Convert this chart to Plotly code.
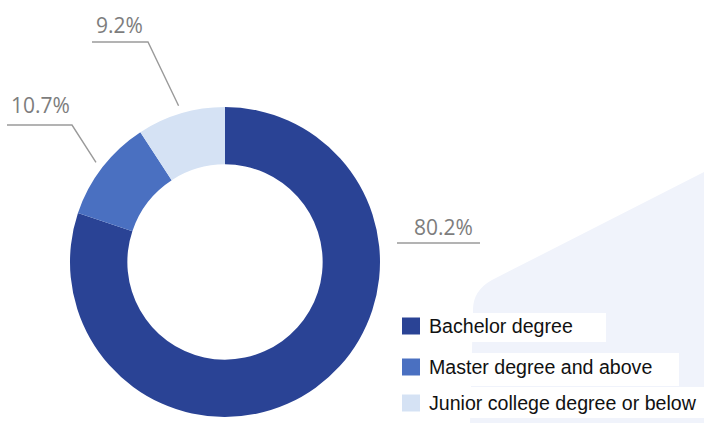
import math
import plotly.graph_objects as go

# ---- data ----
categories = ["Bachelor degree", "Master degree and above", "Junior college degree or below"]
shares = [80.2, 10.7, 9.2]
colors = ["#2a4395", "#4a70c1", "#d5e2f4"]

# ---- canvas / geometry ----
W, H = 704, 423
CX, CY, R = 225, 262, 155      # ring centre and outer radius in pixels
HOLE = 0.63


def px(x):
    return x / W


def py(y):
    return 1 - y / H


fig = go.Figure(
    go.Pie(
        labels=categories,
        values=shares,
        sort=False,
        direction="clockwise",
        rotation=0,
        hole=HOLE,
        marker=dict(colors=colors, line=dict(width=0)),
        textinfo="none",
        hoverinfo="label+percent",
        showlegend=False,
        domain=dict(x=[px(CX - R), px(CX + R)], y=[py(CY + R), py(CY - R)]),
    )
)

shapes = []
annotations = []

# faint diagonal watermark band in the lower right
band = (
    f"M {px(704)},{py(172)} L {px(492)},{py(280)} "
    f"Q {px(472)},{py(291)} {px(473)},{py(312)} "
    f"L {px(470)},{py(423)} L {px(704)},{py(423)} Z"
)
shapes.append(dict(type="path", xref="paper", yref="paper", path=band,
                   fillcolor="#f0f3fb", line=dict(width=0), layer="below"))

# mid angle of every slice (clockwise from 12 o'clock)
total = sum(shares)
mids = []
acc = 0.0
for v in shares:
    mids.append((acc + v / 2) / total * 360)
    acc += v


def ring_point(angle, r):
    a = math.radians(angle)
    return CX + r * math.sin(a), CY - r * math.cos(a)


# percentage labels: text centre, underline span, whether an elbow runs to the ring
label_layout = [
    dict(tx=443, ty=227, ux0=397, ux1=480, uy=243, elbow=None),
    dict(tx=40, ty=105, ux0=7, ux1=72, uy=125, elbow="right"),
    dict(tx=120, ty=25, ux0=92, ux1=148, uy=42, elbow="right"),
]
line_style = dict(color="#9a9a9a", width=1.4)
for v, mid, lay in zip(shares, mids, label_layout):
    annotations.append(dict(
        x=px(lay["tx"]), y=py(lay["ty"]), xref="paper", yref="paper",
        text=f"{v:.1f}%", showarrow=False, xanchor="center", yanchor="middle",
        font=dict(family="Open Sans", size=21, color="#7d7d7d"),
    ))
    path = f"M {px(lay['ux0'])},{py(lay['uy'])} L {px(lay['ux1'])},{py(lay['uy'])}"
    if lay["elbow"]:
        ex, ey = ring_point(mid, R + 8)
        path += f" L {px(ex)},{py(ey)}"
    shapes.append(dict(type="path", xref="paper", yref="paper", path=path,
                       line=line_style))

# legend drawn as swatches + labels on white strips
legend_rows = [
    dict(cy=326, top=313, bottom=342, right=606),
    dict(cy=367, top=353, bottom=386, right=679),
    dict(cy=403, top=387, bottom=418, right=704),
]
for name, col, row in zip(categories, colors, legend_rows):
    shapes.append(dict(type="rect", xref="paper", yref="paper",
                       x0=px(426), x1=px(row["right"]), y0=py(row["bottom"]), y1=py(row["top"]),
                       fillcolor="white", line=dict(width=0), layer="below"))
    shapes.append(dict(type="rect", xref="paper", yref="paper",
                       x0=px(402), x1=px(420), y0=py(row["cy"] + 8.5), y1=py(row["cy"] - 8.5),
                       fillcolor=col, line=dict(width=0)))
    annotations.append(dict(
        x=px(427), y=py(row["cy"]), xref="paper", yref="paper",
        text=name, showarrow=False, xanchor="left", yanchor="middle",
        font=dict(family="Liberation Sans, Arial, sans-serif", size=19.6, color="#111111"),
    ))

fig.update_layout(
    width=W, height=H,
    margin=dict(l=0, r=0, t=0, b=0),
    paper_bgcolor="white",
    plot_bgcolor="white",
    shapes=shapes,
    annotations=annotations,
)

fig.write_html("out.html")
